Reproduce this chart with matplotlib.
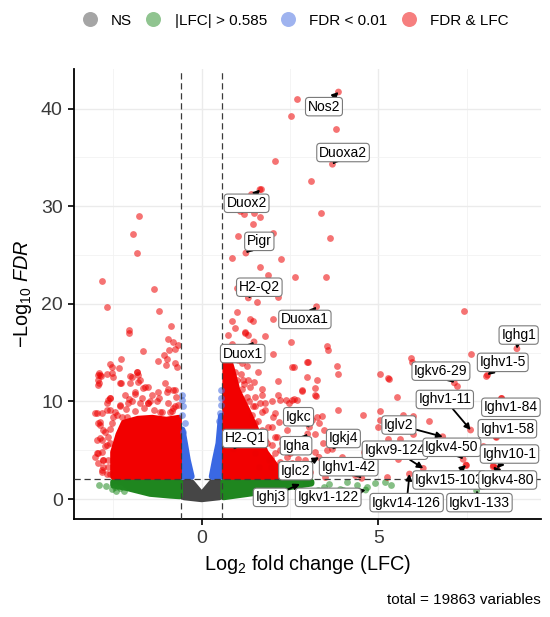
import matplotlib
matplotlib.use("Agg")
import matplotlib.pyplot as plt
from matplotlib.lines import Line2D
import numpy as np

plt.rcParams["font.family"] = ["Liberation Sans", "DejaVu Sans"]
plt.rcParams["mathtext.fontset"] = "custom"
plt.rcParams["mathtext.rm"] = "Liberation Sans"
plt.rcParams["mathtext.it"] = "Liberation Sans:italic"

LFC_CUT = 0.585
FDR_CUT = 0.01
TOTAL = 19863

# dense cores of the cloud, as outlines of the point centres (log2FC, -log10 FDR)
ns_core_x = [-0.5, -0.5, -0.29, 0.0, 0.29, 0.5, 0.5, 0.0]
ns_core_y = [0.2, 1.7, 1.7, 0.45, 1.7, 1.7, 0.2, 0.0]

lfc_left_core_x = [-2.5, -2.12, -1.46, -0.9, -0.62, -0.62, -2.5]
lfc_left_core_y = [1.4, 1.15, 0.55, 0.37, 0.3, 1.75, 1.75]
lfc_right_core_x = [0.62, 1.32, 2.0, 2.73, 3.1, 3.1, 0.62]
lfc_right_core_y = [0.2, 0.55, 0.9, 1.4, 1.6, 1.75, 1.75]

fdr_left_core_x = [-0.57, -0.57, -0.55, -0.48, -0.40, -0.29]
fdr_left_core_y = [2.3, 7.1, 7.1, 5.7, 4.0, 2.3]
fdr_right_core_x = [0.57, 0.57, 0.55, 0.48, 0.38, 0.29]
fdr_right_core_y = [2.3, 8.5, 8.5, 5.7, 4.0, 2.3]

both_left_core_x = [-2.5, -2.5, -2.35, -2.2, -1.8, -1.4, -1.0, -0.65, -0.65]
both_left_core_y = [2.3, 4.8, 6.6, 7.8, 8.2, 8.3, 8.1, 8.3, 2.3]
both_right_core_x = [0.66, 0.68, 0.85, 1.0, 1.3, 1.55, 1.8, 2.15, 2.3, 2.3]
both_right_core_y = [2.3, 15.4, 13.3, 11.2, 9.0, 7.0, 4.8, 3.1, 2.5, 2.3]

# individual points outside the dense cores
both_x = [-1.78, -1.95, -1.82, -2.82, -1.34, -2.67, -1.21, -2.07, -2.06, -0.87,
          -0.95, -0.80, -0.67, -0.75, -0.92, -1.66, -1.06, -2.28, -0.97, -1.24,
          -2.60, -1.01, -0.76, -2.54, -2.33, -0.69, -2.92, -2.94, -2.85, -2.69,
          -2.91, -2.50, -2.31, -1.84, -1.75, -1.51, -0.95, -2.64, -3.02, -2.88,
          -2.97, -2.93, -2.83, -2.69, -2.78, -2.83, -2.74, -2.60, -2.93, -2.55,
          -2.29, -2.03, -1.82, -1.65, -1.89, -1.98, -0.99, -0.76, -2.60, -2.88,
          -2.95, -3.02, -2.78, -2.83, -2.69, -2.31, -1.51, -1.18, -0.80, -2.12,
          -2.60, -2.69, -2.64,
          -2.88, -2.93, -2.03, -1.79, -1.60, -1.79, -1.98, -1.04, -0.80, -1.23,
          -1.42, -1.89, -2.17, -2.60, -2.69, -2.97, -2.83, -2.60, -2.31, -2.08,
          -1.75, -1.51, -1.27, -0.95, -0.76, -0.90, -2.93, -2.79, -2.64, -2.88,
          -2.74, -2.93, -2.79, -2.64, -2.83, -2.60, -2.50, -2.26,
          -2.45, -2.15, -1.90, -1.62, -1.35, -1.12, -0.85, -0.68, -2.40, -1.70,
          -1.20, -0.72, -2.55, -2.05, -1.45,
          2.69, 2.53, 3.80, 2.06, 3.08, 1.67, 1.39, 1.08, 1.21, 1.49,
          1.65, 3.37, 1.46, 1.04, 2.03, 3.63, 0.87, 2.24, 1.65, 1.89,
          2.64, 3.52, 1.01, 1.57, 2.17, 0.99, 1.37, 1.46, 0.85, 2.03,
          1.23, 2.52, 3.54, 3.57, 2.62, 3.82, 2.97, 3.87, 3.26, 2.15,
          3.21, 3.24, 1.65, 2.69, 4.57, 5.05, 5.28, 5.05, 2.03, 2.99,
          2.85, 2.17, 2.39, 2.56, 3.87, 3.11, 3.40, 4.25, 3.44, 3.21,
          3.96, 4.72, 4.34, 2.72, 2.50, 2.22, 2.12, 2.41, 1.89, 2.03,
          1.70, 1.79, 1.51, 1.32, 1.37, 0.94, 1.23, 1.32, 1.79, 1.04,
          1.60, 1.18, 7.42, 7.62, 5.92, 5.96, 5.30, 7.22, 8.05, 5.52,
          8.47, 5.05, 5.69, 5.99, 6.44, 5.00, 5.28, 5.61, 5.99, 4.59,
          5.56, 5.24, 7.48, 8.33, 8.25, 7.95, 3.75, 4.10, 3.50,
          1.28, 2.56, 3.01, 0.95, 1.00, 1.47, 1.14, 1.71, 2.84, 3.22,
          1.28, 1.71, 1.99, 2.22, 2.46, 2.60, 1.52, 1.80, 1.42, 2.08,
          1.99, 2.18, 3.26, 3.31, 3.45, 3.22, 2.08, 2.27, 1.85, 2.51,
          2.08, 1.90, 2.22, 1.61, 2.93, 2.75, 3.07, 3.40, 3.55, 1.52,
          1.71, 1.52, 0.75, 0.85, 1.05, 0.95, 1.15,
          1.95, 2.35, 2.60, 2.40, 2.00, 1.80, 1.60, 1.45, 1.20, 1.10,
          0.90, 2.55, 2.80, 1.95, 1.35]
both_y = [29.0, 27.15, 25.2, 22.3, 21.5, 19.7, 19.3, 17.3, 17.05, 17.7,
          16.4, 16.1, 15.8, 15.4, 15.3, 15.2, 14.8, 14.3, 14.3, 14.1,
          13.8, 13.7, 13.9, 13.5, 13.4, 13.5, 12.9, 12.2, 12.6, 12.8,
          11.85, 12.5, 11.85, 13.0, 12.2, 11.5, 11.3, 10.1, 8.8, 7.9,
          4.7, 3.7, 2.8, 2.6, 4.0, 6.0, 6.9, 5.7, 12.7, 12.9,
          11.9, 12.6, 13.0, 11.4, 10.8, 10.0, 11.0, 11.2, 10.4, 7.6,
          6.0, 4.3, 3.3, 4.85, 9.1, 9.6, 9.8, 8.9, 9.3, 8.4,
          7.2, 5.5, 4.0,
          12.7, 11.7, 11.85, 12.0, 11.5, 12.7, 12.5, 11.85, 11.2, 11.0,
          10.65, 11.0, 10.65, 10.3, 9.8, 8.8, 8.8, 9.1, 9.5, 9.8,
          9.8, 9.8, 10.0, 9.8, 9.5, 8.9, 7.75, 7.07, 6.4, 6.2,
          5.4, 4.7, 4.0, 3.3, 3.0, 2.6, 8.4, 8.4,
          8.9, 9.2, 9.0, 9.3, 9.1, 8.9, 9.0, 9.6, 8.6, 10.4,
          10.3, 10.5, 7.8, 10.2, 10.0,
          40.95, 39.2, 37.9, 34.6, 32.6, 31.8, 31.25, 29.5, 29.2, 29.3,
          28.9, 29.3, 28.2, 26.9, 27.3, 26.7, 24.7, 24.6, 23.8, 22.95,
          22.7, 22.7, 21.6, 20.2, 20.7, 19.2, 18.4, 18.2, 18.2, 18.4,
          17.1, 16.1, 15.7, 15.3, 13.5, 13.6, 12.5, 12.8, 12.2, 10.65,
          11.4, 10.55, 9.8, 10.1, 8.6, 8.1, 12.4, 12.8, 14.9, 14.0,
          11.1, 12.1, 10.1, 10.1, 9.1, 8.1, 8.5, 6.8, 5.7, 4.85,
          4.33, 3.15, 2.46, 4.07, 4.68, 5.0, 6.4, 7.07, 7.4, 8.4,
          8.9, 9.8, 10.5, 12.2, 11.5, 17.5, 17.0, 16.8, 16.7, 14.2,
          13.0, 12.2, 19.26, 14.9, 14.4, 14.0, 12.3, 11.6, 12.6, 10.5,
          10.3, 9.05, 8.6, 8.5, 8.0, 7.4, 6.1, 6.1, 6.7, 4.85,
          4.07, 2.3, 3.48, 6.38, 3.48, 5.43, 3.4, 2.9, 2.3,
          13.6, 13.5, 14.0, 13.0, 12.2, 12.0, 11.3, 11.3, 11.2, 10.65,
          10.5, 10.65, 10.0, 10.1, 9.8, 10.2, 9.5, 9.1, 8.6, 8.8,
          7.4, 7.9, 8.4, 7.75, 7.07, 6.7, 6.4, 5.7, 5.7, 5.0,
          4.7, 4.0, 3.8, 3.3, 4.0, 3.0, 2.8, 3.3, 5.0, 4.7,
          7.07, 7.75, 16.8, 15.9, 15.2, 14.6, 13.9,
          3.3, 3.2, 2.6, 4.3, 5.5, 6.0, 8.0, 9.5, 11.8, 12.8,
          14.8, 3.7, 3.4, 4.2, 10.0]

fdr_x = [-0.55, -0.55, -0.54, -0.47, -0.52, -0.56, 0.55, 0.56, 0.52, 0.50, 0.54]
fdr_y = [10.7, 10.1, 9.5, 7.75, 6.9, 8.6, 10.3, 9.6, 8.8, 8.0, 11.2]

lfc_x = [-2.91, -2.70, -2.55, -2.43, -2.31, -2.45, -2.20, 3.30, 3.60, 3.90,
         4.10, 4.40, 4.67, 4.90, 5.20, 3.45, 3.10, 4.00, 5.35]
lfc_y = [1.4, 1.36, 1.02, 0.85, 1.1, 1.26, 0.8, 0.9, 1.5, 1.0,
         1.7, 1.4, 1.26, 1.6, 1.7, 1.2, 0.7, 0.95, 1.45]

# labelled genes: point and label box centre
gene_names = ["Nos2", "Duoxa2", "Duox2", "Pigr", "H2-Q2", "Duoxa1", "Duox1",
              "Igkc", "Igha", "H2-Q1", "Igkj4", "Iglc2", "Ighv1-42", "Ighj3",
              "Igkv1-122", "Igkv14-126", "Igkv9-124", "Iglv2", "Igkv15-103",
              "Igkv4-50", "Igkv1-133", "Ighv10-1", "Igkv4-80", "Ighv1-58",
              "Ighv1-84", "Ighv1-11", "Igkv6-29", "Ighv1-5", "Ighg1"]
gene_x = [3.87, 3.70, 1.65, 1.25, 1.32, 3.25, 1.48, 3.05, 3.00, 0.90, 3.70,
          3.32, 4.53, 2.78, 4.64, 5.88, 6.27, 6.82, 7.48, 7.40, 7.78, 8.35,
          8.25, 8.33, 8.49, 7.61, 7.15, 8.09, 8.92]
gene_y = [41.7, 34.3, 31.7, 25.2, 20.6, 19.7, 16.1, 7.35, 6.66, 5.12, 5.09,
          4.27, 2.12, 1.54, 0.92, 2.56, 3.14, 6.38, 3.48, 4.07, 0.85, 3.14,
          3.30, 6.38, 10.3, 7.07, 11.9, 12.7, 15.4]
label_x = [3.46, 4.00, 1.27, 1.63, 1.63, 2.92, 1.16, 2.74, 2.67, 1.23, 4.01,
           2.66, 4.16, 1.95, 3.58, 5.80, 5.47, 5.58, 7.01, 7.08, 7.86, 8.71,
           8.66, 8.65, 8.75, 6.88, 6.77, 8.52, 8.97]
label_y = [40.2, 35.5, 30.3, 26.4, 21.7, 18.4, 14.9, 8.43, 5.46, 6.2, 6.2,
           2.9, 3.31, 0.17, 0.17, -0.37, 5.0, 7.58, 1.95, 5.3, -0.37, 4.61,
           1.95, 7.2, 9.4, 10.2, 13.1, 14.0, 16.8]

COLORS = {"NS": "#4d4d4d", "LFC": "#228b22", "FDR": "#4169e1", "BOTH": "#ee0000"}
CORE = {"NS": "#464646", "LFC": "#1f861f", "FDR": "#3a68e3", "BOTH": "#f20000"}


def classify(x, y):
    sig = y > -np.log10(FDR_CUT)
    big = abs(x) > LFC_CUT
    if sig and big:
        return "BOTH"
    if sig:
        return "FDR"
    if big:
        return "LFC"
    return "NS"


def draw_core(ax, xs, ys, key):
    ax.fill(xs, ys, facecolor=CORE[key], edgecolor=CORE[key], linewidth=4.6,
            joinstyle="round", zorder=2)


fig = plt.figure(figsize=(5.5, 6.17), dpi=100)
ax = fig.add_axes([0.1345, 0.1588, 0.849, 0.7294])

draw_core(ax, ns_core_x, ns_core_y, "NS")
draw_core(ax, lfc_left_core_x, lfc_left_core_y, "LFC")
draw_core(ax, lfc_right_core_x, lfc_right_core_y, "LFC")
draw_core(ax, fdr_left_core_x, fdr_left_core_y, "FDR")
draw_core(ax, fdr_right_core_x, fdr_right_core_y, "FDR")
draw_core(ax, both_left_core_x, both_left_core_y, "BOTH")
draw_core(ax, both_right_core_x, both_right_core_y, "BOTH")

pt = dict(s=24, alpha=0.55, linewidths=0, zorder=3)
ax.scatter(lfc_x, lfc_y, color=COLORS["LFC"], **pt)
ax.scatter(fdr_x, fdr_y, color=COLORS["FDR"], **pt)
ax.scatter(both_x, both_y, color=COLORS["BOTH"], **pt)
gene_cols = [COLORS[classify(x, y)] for x, y in zip(gene_x, gene_y)]
ax.scatter(gene_x, gene_y, color=gene_cols, **pt)

for xv in (-LFC_CUT, LFC_CUT):
    ax.axvline(xv, color="#3a3a3a", lw=0.9, ls=(0, (5, 3)), zorder=4)
ax.axhline(-np.log10(FDR_CUT), color="#3a3a3a", lw=0.9, ls=(0, (5, 3)), zorder=4)

for i, name in enumerate(gene_names):
    ax.annotate(
        name, xy=(gene_x[i], gene_y[i]), xytext=(label_x[i], label_y[i]),
        ha="center", va="center", fontsize=10, color="black", zorder=6 + i * 0.01,
        bbox=dict(boxstyle="round,pad=0.16,rounding_size=0.25", fc="white", ec="#7a7a7a", lw=0.8),
        arrowprops=dict(arrowstyle="-|>,head_length=0.35,head_width=0.18", color="black",
                        lw=1.3, shrinkA=0, shrinkB=0),
    )

ax.set_xlim(-3.615, 9.6)
ax.set_ylim(-2.05, 44.06)
ax.set_xticks([0, 5])
ax.set_xticks([-2.5, 2.5, 7.5], minor=True)
ax.set_yticks([0, 10, 20, 30, 40])
ax.set_yticks([5, 15, 25, 35], minor=True)
ax.grid(which="major", color="#ebebeb", lw=1.0, zorder=0)
ax.grid(which="minor", color="#f2f2f2", lw=0.6, zorder=0)
ax.set_axisbelow(True)
for side in ("top", "right"):
    ax.spines[side].set_visible(False)
for side in ("left", "bottom"):
    ax.spines[side].set_linewidth(1.3)
    ax.spines[side].set_color("black")
ax.tick_params(which="major", length=4, width=1.2, color="black", labelsize=14,
               labelcolor="#3a3a3a", pad=4)
ax.tick_params(which="minor", length=0)

ax.set_xlabel(r"Log$_2$ fold change (LFC)", fontsize=14.3, labelpad=4)
ax.set_ylabel(r"$-\mathrm{Log}_{10}\ \mathit{FDR}$", fontsize=14.3, labelpad=5)

handles = [Line2D([], [], marker="o", ls="", markersize=10.8, markeredgewidth=0,
                  color=COLORS[k], alpha=0.5) for k in ("NS", "LFC", "FDR", "BOTH")]
labels = ["NS", "|LFC| > 0.585", "FDR < 0.01", "FDR & LFC"]
fig.legend(handles, labels, loc="center", bbox_to_anchor=(0.537, 0.9665), ncol=4,
           frameon=False, fontsize=11, handletextpad=0.9, columnspacing=0.88,
           handlelength=1.0)

fig.text(0.984, 0.028, f"total = {TOTAL} variables", ha="right", va="center", fontsize=11)

fig.savefig("out.png", dpi=100)
